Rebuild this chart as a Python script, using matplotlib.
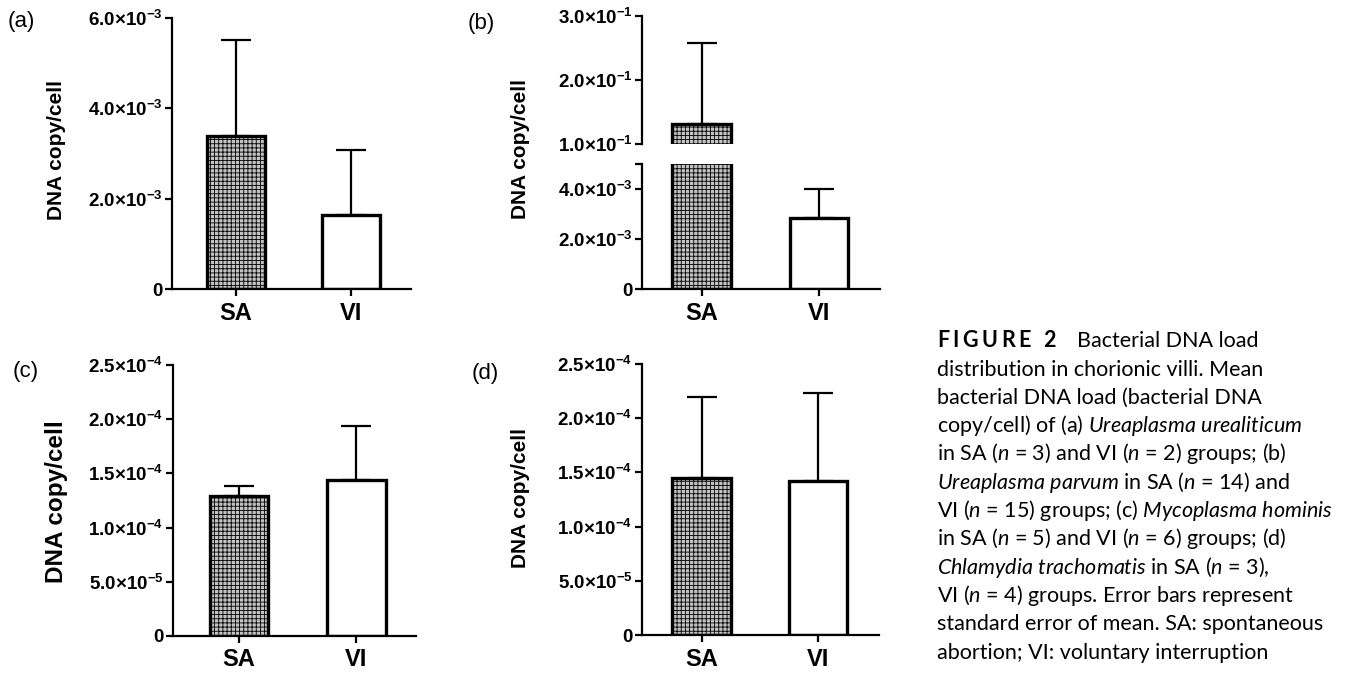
import numpy as np
import matplotlib
matplotlib.use("Agg")
import matplotlib.pyplot as plt

# values (mean and SEM, bacterial DNA copy/cell)
groups = ["SA", "VI"]
mean_a = [3.38e-3, 1.63e-3]
sem_a = [2.13e-3, 1.44e-3]
mean_b = [0.131, 2.85e-3]
sem_b = [0.127, 1.15e-3]
mean_c = [1.29e-4, 1.44e-4]
sem_c = [0.09e-4, 0.495e-4]
mean_d = [1.45e-4, 1.42e-4]
sem_d = [0.75e-4, 0.81e-4]

ticks_a = [0, 2e-3, 4e-3, 6e-3]
ticks_b_low = [0, 2e-3, 4e-3, 5e-3]
ticks_b_high = [0.1, 0.2, 0.3]
ticks_cd = [0, 5e-5, 1e-4, 1.5e-4, 2e-4, 2.5e-4]

caption_head = "FIGURE 2"
caption_lines = [
    "Bacterial DNA load",
    "distribution in chorionic villi. Mean",
    "bacterial DNA load (bacterial DNA",
    r"copy/cell) of (a) $\mathit{Ureaplasma\ urealiticum}$",
    r"in SA ($\mathit{n}$ = 3) and VI ($\mathit{n}$ = 2) groups; (b)",
    r"$\mathit{Ureaplasma\ parvum}$ in SA ($\mathit{n}$ = 14) and",
    r"VI ($\mathit{n}$ = 15) groups; (c) $\mathit{Mycoplasma\ hominis}$",
    r"in SA ($\mathit{n}$ = 5) and VI ($\mathit{n}$ = 6) groups; (d)",
    r"$\mathit{Chlamydia\ trachomatis}$ in SA ($\mathit{n}$ = 3),",
    r"VI ($\mathit{n}$ = 4) groups. Error bars represent",
    "standard error of mean. SA: spontaneous",
    "abortion; VI: voluntary interruption",
]

plt.rcParams["font.family"] = ["Liberation Sans", "DejaVu Sans"]
plt.rcParams["mathtext.fontset"] = "custom"
plt.rcParams["mathtext.rm"] = "Lato"
plt.rcParams["mathtext.it"] = "Lato:italic"
plt.rcParams["mathtext.bf"] = "Liberation Sans:bold"
plt.rcParams["hatch.linewidth"] = 0.6
plt.rcParams["hatch.color"] = "#6a6a6a"

W, H = 1349, 675
fig = plt.figure(figsize=(W / 100, H / 100), dpi=100)


def box(x0, y0, x1, y1):
    # pixel box (top-left origin) -> figure fraction
    return [x0 / W, 1 - y1 / H, (x1 - x0) / W, (y1 - y0) / H]


def sci(v):
    if v == 0:
        return "0"
    e = int(np.floor(np.log10(abs(v)) + 1e-9))
    m = v / 10 ** e
    return r"$\mathbf{%.1f{\times}10^{%d}}$" % (m, e)


def style_axis(ax, ticks, labels=None):
    for s in ["top", "right"]:
        ax.spines[s].set_visible(False)
    for s in ["left", "bottom"]:
        ax.spines[s].set_linewidth(1.6)
    ax.set_yticks(ticks)
    ax.set_yticklabels(labels if labels is not None else [sci(t) for t in ticks],
                       fontsize=13.5, fontweight="bold")
    ax.tick_params(axis="y", length=5, width=1.6, pad=2)
    ax.set_xticks([0, 1])
    ax.set_xticklabels(groups, fontsize=17, fontweight="bold")
    ax.tick_params(axis="x", length=5, width=1.6, pad=4)


def draw_bars(ax, means, sems):
    x = np.arange(len(groups))
    ax.bar(x, means, width=0.5, color=["#c2c2c2", "white"],
           hatch=["++++", ""], edgecolor="black", linewidth=2.4, zorder=2)
    ax.errorbar(x, means, yerr=[np.zeros(len(sems)), sems], fmt="none",
                ecolor="black", elinewidth=1.6, capsize=11, capthick=1.6, zorder=1)


# (a)
ax_a = fig.add_axes(box(172, 18, 411, 289))
draw_bars(ax_a, mean_a, sem_a)
ax_a.set_xlim(-0.556, 1.52)
ax_a.set_ylim(0, 6e-3)
style_axis(ax_a, ticks_a)

# (b) broken axis
ax_bl = fig.add_axes(box(642, 164, 880, 289))
ax_bh = fig.add_axes(box(642, 16, 880, 144))
for ax in (ax_bl, ax_bh):
    draw_bars(ax, mean_b, sem_b)
    ax.set_xlim(-0.51, 1.52)
ax_bl.set_ylim(0, 5e-3)
ax_bh.set_ylim(0.1, 0.3)
style_axis(ax_bl, ticks_b_low, [sci(t) for t in ticks_b_low[:-1]] + [""])
style_axis(ax_bh, ticks_b_high)
ax_bh.spines["bottom"].set_visible(False)
ax_bh.set_xticks([])

# (c)
ax_c = fig.add_axes(box(173, 365, 416, 636))
draw_bars(ax_c, mean_c, sem_c)
ax_c.set_xlim(-0.564, 1.51)
ax_c.set_ylim(0, 2.5e-4)
style_axis(ax_c, ticks_cd)

# (d)
ax_d = fig.add_axes(box(642, 364, 879, 635))
draw_bars(ax_d, mean_d, sem_d)
ax_d.set_xlim(-0.51, 1.52)
ax_d.set_ylim(0, 2.5e-4)
style_axis(ax_d, ticks_cd)

# y labels and panel letters
for (x, y, fs) in [(57, 150, 15), (520, 149, 15), (57, 502, 17.5), (520, 498, 15)]:
    fig.text(x / W, 1 - y / H, "DNA copy/cell", rotation=90, ha="center", va="center",
             fontsize=fs, fontweight="bold")
for (x, y, s) in [(8, 21, "(a)"), (468, 24, "(b)"), (13, 372, "(c)"), (472, 373, "(d)")]:
    fig.text(x / W, 1 - y / H, s, ha="left", va="center", fontsize=16)

# caption
renderer = fig.canvas.get_renderer()
cx = 937
base0 = 347.3
step = 28.3
cap_fs = 15.5
track = 3.5  # letter spacing of the bold heading, px
px = cx
for ch in caption_head:
    if ch == " ":
        px += 0.25 * cap_fs * 100 / 72 + track
        continue
    t = fig.text(px / W, 1 - base0 / H, ch, fontsize=cap_fs, fontweight="bold",
                 family=["Lato", "DejaVu Sans"], va="baseline", ha="left")
    px += t.get_window_extent(renderer).width + track
for i, line in enumerate(caption_lines):
    x0 = 1077 if i == 0 else cx
    fig.text(x0 / W, 1 - (base0 + i * step) / H, line, fontsize=cap_fs,
             family=["Lato", "DejaVu Sans"], va="baseline", ha="left")

fig.savefig("out.png", dpi=100)
